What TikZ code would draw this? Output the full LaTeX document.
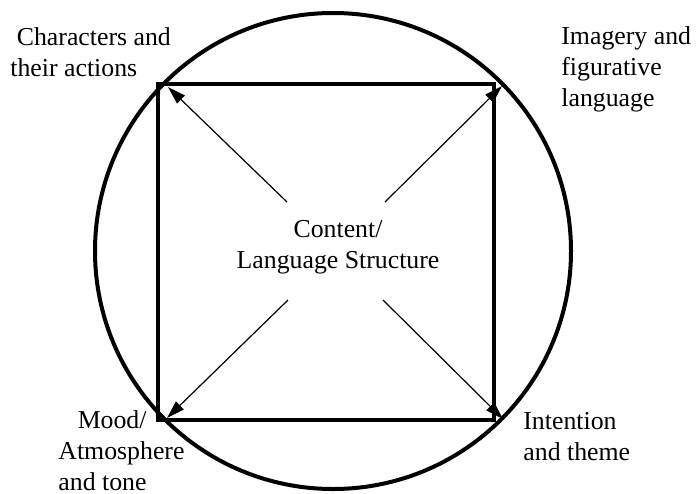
\documentclass[tikz,border=0pt]{standalone}
\usepackage{fontspec}
\setmainfont{Liberation Serif}
\usetikzlibrary{arrows.meta}
\begin{document}
\begin{tikzpicture}[x=0.5pt,y=-0.5pt,
  lbl/.style={inner sep=0pt, font=\fontsize{12.9}{15.5}\selectfont, align=left},
  bold/.style={draw, line width=2pt, inner sep=0pt},
  arr/.style={line width=0.6pt, -{Triangle[length=9pt,width=5.5pt]}}]
\useasboundingbox (0,0) rectangle (696,493);
\node[bold, circle, minimum size=238pt] (ring) at (333,251) {};
\node[bold, rectangle, minimum size=168pt] (sq) at (326,252) {};
\node[lbl, align=center, anchor=base] (core) at (338,268) {Content/\\Language Structure};
\coordinate (s1) at (287,202);
\coordinate (s2) at (385,202);
\coordinate (s3) at (288,300);
\coordinate (s4) at (383,300);
\coordinate (t1) at (168,87);
\coordinate (t2) at (502,86);
\coordinate (t3) at (167,418);
\coordinate (t4) at (503,419);
\draw[arr] (s1) -- (t1);
\draw[arr] (s2) -- (t2);
\draw[arr] (s3) -- (t3);
\draw[arr] (s4) -- (t4);
\node[lbl, anchor=base west] (chars) at (10,76) {\hspace*{0.25em}Characters and\\their actions};
\node[lbl, anchor=base west] (imag) at (561,106) {Imagery and\\figurative\\language};
\node[lbl, anchor=base west] (mood) at (58,490) {\hspace*{0.75em}Mood/\\Atmosphere\\and tone};
\node[lbl, anchor=base west] (intent) at (523,460) {Intention\\and theme};
\end{tikzpicture}
\end{document}
